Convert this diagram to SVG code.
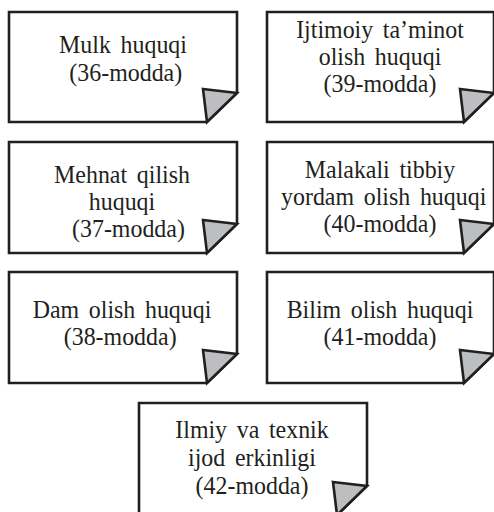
<svg xmlns="http://www.w3.org/2000/svg" width="494" height="512" viewBox="0 0 494 512">
<style>
.card{fill:#fff;stroke:#231f20;stroke-width:2.6;stroke-linejoin:miter}
.fold{fill:#bcbec0;stroke:#231f20;stroke-width:2.6;stroke-linejoin:miter}
text{font-family:"Liberation Serif","Times New Roman",serif;font-size:26px;fill:#231f20;text-anchor:middle;word-spacing:4px}
</style>
<rect width="494" height="512" fill="#fff"/>
<g id="node-36">
<path class="card" d="M9,12 H237 V93 L207,122 H9 Z"/>
<path class="fold" d="M203,89 L237,93 L207,122 Z"/>
<g transform="translate(123,0) scale(0.92,1)">
<text x="0" y="53">Mulk huquqi</text>
<text x="3" y="81">(36-modda)</text>
</g>
</g>
<g id="node-39">
<path class="card" d="M267,12 H494 V93 L464,122 H267 Z"/>
<path class="fold" d="M460,89 L494,93 L464,122 Z"/>
<g transform="translate(380,0) scale(0.92,1)">
<text x="0" y="38">Ijtimoiy ta’minot</text>
<text x="0" y="65">olish huquqi</text>
<text x="0" y="92">(39-modda)</text>
</g>
</g>
<g id="node-37">
<path class="card" d="M9,142 H237 V224 L207,253 H9 Z"/>
<path class="fold" d="M203,220 L237,224 L207,253 Z"/>
<g transform="translate(122,0) scale(0.92,1)">
<text x="0" y="183">Mehnat qilish</text>
<text x="0" y="210">huquqi</text>
<text x="7" y="237">(37-modda)</text>
</g>
</g>
<g id="node-40">
<path class="card" d="M267,142 H494 V224 L464,253 H267 Z"/>
<path class="fold" d="M460,220 L494,224 L464,253 Z"/>
<g transform="translate(380,0) scale(0.92,1)">
<text x="0" y="178">Malakali tibbiy</text>
<text x="4" y="205">yordam olish huquqi</text>
<text x="0" y="232">(40-modda)</text>
</g>
</g>
<g id="node-38">
<path class="card" d="M9,272 H237 V354 L207,383 H9 Z"/>
<path class="fold" d="M203,350 L237,354 L207,383 Z"/>
<g transform="translate(122,0) scale(0.92,1)">
<text x="0" y="318">Dam olish huquqi</text>
<text x="-2" y="345">(38-modda)</text>
</g>
</g>
<g id="node-41">
<path class="card" d="M267,272 H494 V354 L464,383 H267 Z"/>
<path class="fold" d="M460,350 L494,354 L464,383 Z"/>
<g transform="translate(380,0) scale(0.92,1)">
<text x="0" y="318">Bilim olish huquqi</text>
<text x="0" y="345">(41-modda)</text>
</g>
</g>
<g id="node-42">
<path class="card" d="M139,403 H367 V486 L337,515 H139 Z"/>
<path class="fold" d="M333,482 L367,486 L337,515 Z"/>
<g transform="translate(252,0) scale(0.92,1)">
<text x="0" y="438">Ilmiy va texnik</text>
<text x="0" y="466">ijod erkinligi</text>
<text x="0" y="494">(42-modda)</text>
</g>
</g>
<g id="connectors"></g>
</svg>
